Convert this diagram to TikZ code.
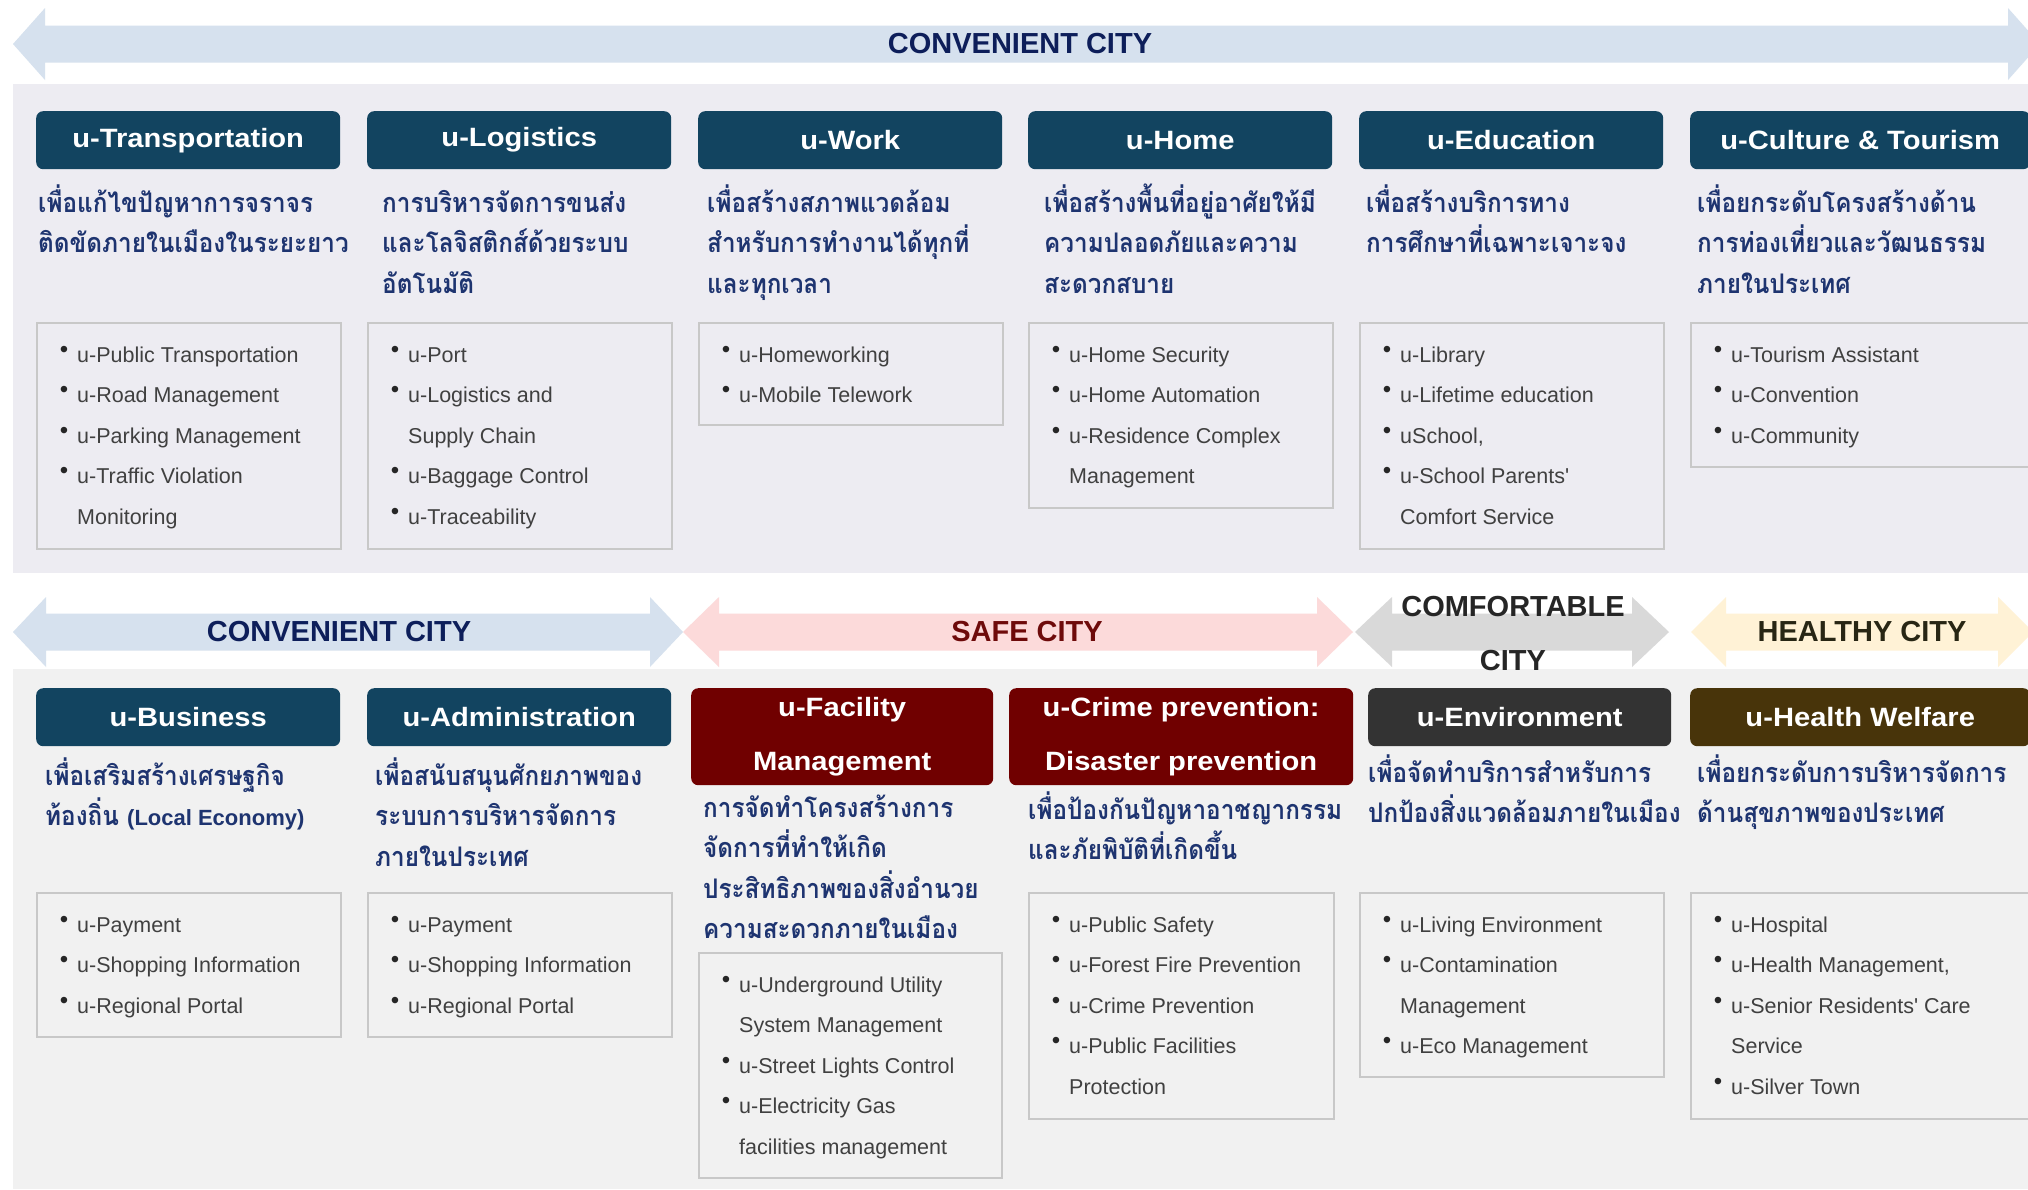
\documentclass[tikz,border=0pt]{standalone}
\usepackage{fontspec}
\setmainfont{Liberation Sans}
\newfontfamily\widefont[FakeStretch=1.1]{Liberation Sans}
\newfontfamily\thaifont[Script=Thai,FakeStretch=0.9]{Loma}

\definecolor{bandblue}{RGB}{214,225,238}
\definecolor{bandpink}{RGB}{252,218,218}
\definecolor{bandgray}{RGB}{217,217,217}
\definecolor{bandyellow}{RGB}{255,242,214}
\definecolor{paneltop}{RGB}{237,236,242}
\definecolor{panelbot}{RGB}{241,241,241}
\definecolor{uconv}{RGB}{18,68,96}
\definecolor{usafe}{RGB}{112,0,0}
\definecolor{ucomf}{RGB}{51,51,51}
\definecolor{uheal}{RGB}{72,52,10}
\definecolor{convtext}{RGB}{13,30,90}
\definecolor{safetext}{RGB}{110,10,10}
\definecolor{comftext}{RGB}{38,38,38}
\definecolor{healtext}{RGB}{40,38,20}
\definecolor{aimblue}{RGB}{30,52,112}
\definecolor{listgray}{RGB}{64,64,64}
\definecolor{framegray}{RGB}{200,200,200}

\newcommand{\bul}{\makebox[0pt][r]{\color{black!85}\raisebox{5pt}{\fontsize{24}{24}\selectfont\textbullet}\hspace{9pt}}}

\tikzstyle{bandtext} = [inner sep=0pt, align=center, font=\fontsize{29}{54}\selectfont\bfseries]
\tikzstyle{ubox} = [anchor=north west, inner sep=0pt, rounded corners=7pt, minimum height=58pt, align=center, text=white, font=\widefont\bfseries\fontsize{26.5}{54}\selectfont]
\tikzstyle{aim} = [anchor=base west, inner sep=0pt, align=left, text=aimblue, font=\thaifont\bfseries\fontsize{27}{40.5}\selectfont]
\tikzstyle{itembox} = [anchor=north west, inner sep=0pt, draw=framegray, line width=1.5pt]
\tikzstyle{items} = [anchor=base west, inner sep=0pt, align=left, text=listgray, font=\fontsize{21.5}{40.5}\selectfont, xshift=41pt]

\begin{document}
\begin{tikzpicture}[x=1pt, y=-1pt]
\useasboundingbox (0,0) rectangle (2028,1189);
\fill[white] (0,0) rectangle (2028,1189);
\fill[paneltop] (13,84) rectangle (2040,573);
\fill[panelbot] (13,669) rectangle (2040,1189);

\fill[bandblue] (13,44) -- (45,8) -- (45,25.5) -- (2008,25.5) -- (2008,8) -- (2040,44) -- (2008,80) -- (2008,62.5) -- (45,62.5) -- (45,80) -- cycle;
\node[bandtext, text=convtext] (c0) at (1020,44) {CONVENIENT CITY};

\fill[bandblue] (13,632) -- (46,597) -- (46,613.5) -- (650,613.5) -- (650,597) -- (683,632) -- (650,667) -- (650,650.5) -- (46,650.5) -- (46,667) -- cycle;
\fill[bandpink] (683,632) -- (719,597) -- (719,613.5) -- (1317,613.5) -- (1317,597) -- (1353,632) -- (1317,667) -- (1317,650.5) -- (719,650.5) -- (719,667) -- cycle;
\fill[bandgray] (1355,632) -- (1392,597) -- (1392,613.5) -- (1632,613.5) -- (1632,597) -- (1669,632) -- (1632,667) -- (1632,650.5) -- (1392,650.5) -- (1392,667) -- cycle;
\fill[bandyellow] (1691,632) -- (1726,597) -- (1726,613.5) -- (1998,613.5) -- (1998,597) -- (2033,632) -- (1998,667) -- (1998,650.5) -- (1726,650.5) -- (1726,667) -- cycle;
\node[bandtext, text=convtext] (c1) at (339,632) {CONVENIENT CITY};
\node[bandtext, text=safetext] (c2) at (1027,632) {SAFE CITY};
\node[bandtext, text=comftext] (c3) at (1513,634) {COMFORTABLE\\CITY};
\node[bandtext, text=healtext] (c4) at (1862,632) {HEALTHY CITY};

\node[ubox, fill=uconv, minimum width=304pt] (h1) at (36,111) {u-Transportation};
\node[ubox, fill=uconv, minimum width=304pt] (h2) at (367,111) {u-Logistics};
\node[ubox, fill=uconv, minimum width=304pt] (h3) at (698,111) {u-Work};
\node[ubox, fill=uconv, minimum width=304pt] (h4) at (1028,111) {u-Home};
\node[ubox, fill=uconv, minimum width=304pt] (h5) at (1359,111) {u-Education};
\node[ubox, fill=uconv, minimum width=340pt] (h6) at (1690,111) {u-Culture \& Tourism};

\node[aim] (d1) at (38,252.5) {เพื่อแก้ไขปัญหาการจราจร\\ติดขัดภายในเมืองในระยะยาว};
\node[aim] (d2) at (382,293) {การบริหารจัดการขนส่ง\\และโลจิสติกส์ด้วยระบบ\\อัตโนมัติ};
\node[aim] (d3) at (707,293) {เพื่อสร้างสภาพแวดล้อม\\สำหรับการทำงานได้ทุกที่\\และทุกเวลา};
\node[aim] (d4) at (1044,293) {เพื่อสร้างพื้นที่อยู่อาศัยให้มี\\ความปลอดภัยและความ\\สะดวกสบาย};
\node[aim] (d5) at (1366,252.5) {เพื่อสร้างบริการทาง\\การศึกษาที่เฉพาะเจาะจง};
\node[aim] (d6) at (1697,293) {เพื่อยกระดับโครงสร้างด้าน\\การท่องเที่ยวและวัฒนธรรม\\ภายในประเทศ};

\node[itembox, minimum width=304pt, minimum height=226pt] (f1) at (36,322) {};
\node[items, yshift=-202pt] (l1) at (f1.north west) {\bul u-Public Transportation\\\bul u-Road Management\\\bul u-Parking Management\\\bul u-Traffic Violation\\Monitoring};
\node[itembox, minimum width=304pt, minimum height=226pt] (f2) at (367,322) {};
\node[items, yshift=-202pt] (l2) at (f2.north west) {\bul u-Port\\\bul u-Logistics and\\Supply Chain\\\bul u-Baggage Control\\\bul u-Traceability};
\node[itembox, minimum width=304pt, minimum height=102pt] (f3) at (698,322) {};
\node[items, yshift=-80.5pt] (l3) at (f3.north west) {\bul u-Homeworking\\\bul u-Mobile Telework};
\node[itembox, minimum width=304pt, minimum height=185pt] (f4) at (1028,322) {};
\node[items, yshift=-161.5pt] (l4) at (f4.north west) {\bul u-Home Security\\\bul u-Home Automation\\\bul u-Residence Complex\\Management};
\node[itembox, minimum width=304pt, minimum height=226pt] (f5) at (1359,322) {};
\node[items, yshift=-202pt] (l5) at (f5.north west) {\bul u-Library\\\bul u-Lifetime education\\\bul uSchool,\\\bul u-School Parents\textquotesingle\\Comfort Service};
\node[itembox, minimum width=340pt, minimum height=144pt] (f6) at (1690,322) {};
\node[items, yshift=-121pt] (l6) at (f6.north west) {\bul u-Tourism Assistant\\\bul u-Convention\\\bul u-Community};

\node[ubox, fill=uconv, minimum width=304pt] (k1) at (36,688) {u-Business};
\node[ubox, fill=uconv, minimum width=304pt] (k2) at (367,688) {u-Administration};
\node[ubox, fill=usafe, minimum width=302pt, minimum height=97pt] (k3) at (691,688) {u-Facility\\Management};
\node[ubox, fill=usafe, minimum width=344pt, minimum height=97pt] (k4) at (1009,688) {u-Crime prevention:\\Disaster prevention};
\node[ubox, fill=ucomf, minimum width=303pt] (k5) at (1368,688) {u-Environment};
\node[ubox, fill=uheal, minimum width=340pt] (k6) at (1690,688) {u-Health Welfare};

\node[aim] (e1) at (45,825.5) {เพื่อเสริมสร้างเศรษฐกิจ\\ท้องถิ่น {\rmfamily\fontsize{22}{40.5}\selectfont(Local Economy)}};
\node[aim] (e2) at (375,866) {เพื่อสนับสนุนศักยภาพของ\\ระบบการบริหารจัดการ\\ภายในประเทศ};
\node[aim] (e3) at (703,938.5) {การจัดทำโครงสร้างการ\\จัดการที่ทำให้เกิด\\ประสิทธิภาพของสิ่งอำนวย\\ความสะดวกภายในเมือง};
\node[aim] (e4) at (1028,859.5) {เพื่อป้องกันปัญหาอาชญากรรม\\และภัยพิบัติที่เกิดขึ้น};
\node[aim] (e5) at (1368,822.5) {เพื่อจัดทำบริการสำหรับการ\\ปกป้องสิ่งแวดล้อมภายในเมือง};
\node[aim] (e6) at (1697,822.5) {เพื่อยกระดับการบริหารจัดการ\\ด้านสุขภาพของประเทศ};

\node[itembox, minimum width=304pt, minimum height=144pt] (g1) at (36,892) {};
\node[items, yshift=-121pt] (m1) at (g1.north west) {\bul u-Payment\\\bul u-Shopping Information\\\bul u-Regional Portal};
\node[itembox, minimum width=304pt, minimum height=144pt] (g2) at (367,892) {};
\node[items, yshift=-121pt] (m2) at (g2.north west) {\bul u-Payment\\\bul u-Shopping Information\\\bul u-Regional Portal};
\node[itembox, minimum width=303pt, minimum height=225pt] (g3) at (698,952) {};
\node[items, yshift=-202pt] (m3) at (g3.north west) {\bul u-Underground Utility\\System Management\\\bul u-Street Lights Control\\\bul u-Electricity Gas\\facilities management};
\node[itembox, minimum width=305pt, minimum height=226pt] (g4) at (1028,892) {};
\node[items, yshift=-202pt] (m4) at (g4.north west) {\bul u-Public Safety\\\bul u-Forest Fire Prevention\\\bul u-Crime Prevention\\\bul u-Public Facilities\\Protection};
\node[itembox, minimum width=304pt, minimum height=184pt] (g5) at (1359,892) {};
\node[items, yshift=-161.5pt] (m5) at (g5.north west) {\bul u-Living Environment\\\bul u-Contamination\\Management\\\bul u-Eco Management};
\node[itembox, minimum width=340pt, minimum height=226pt] (g6) at (1690,892) {};
\node[items, yshift=-202pt] (m6) at (g6.north west) {\bul u-Hospital\\\bul u-Health Management,\\\bul u-Senior Residents\textquotesingle{} Care\\Service\\\bul u-Silver Town};
\end{tikzpicture}
\end{document}
